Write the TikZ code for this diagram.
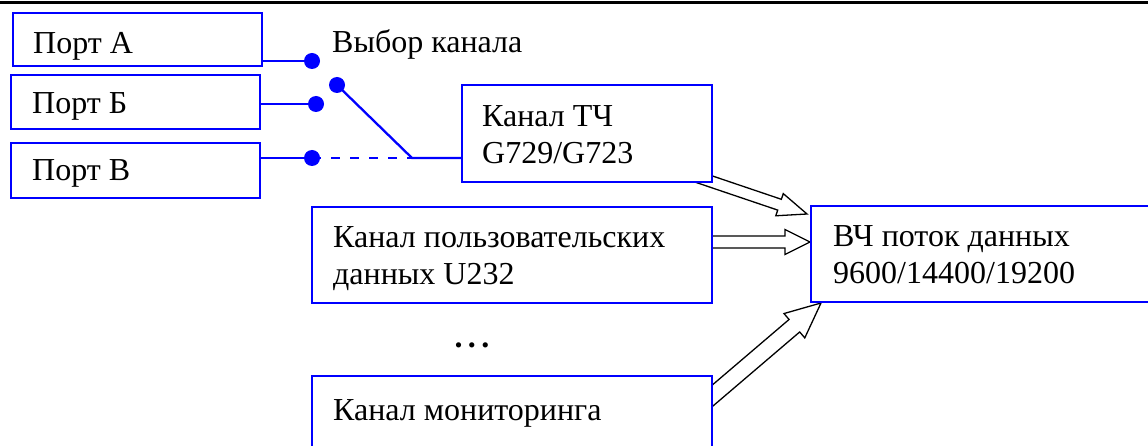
\documentclass[tikz,border=0pt]{standalone}
\usepackage{fontspec}
\setmainfont{Liberation Serif}
\usetikzlibrary{calc}
\pgfdeclarelayer{bg}
\pgfsetlayers{bg,main}
\definecolor{boxblue}{RGB}{0,0,255}
\tikzset{
  box/.style={draw=boxblue, line width=2.7pt, fill=white, anchor=north west, inner sep=0pt, outer sep=0pt},
  txt/.style={font=\fontsize{32}{37}\selectfont, inner sep=0pt, align=left},
  wire/.style={draw=boxblue, line width=2.3pt},
  dot/.style={circle, fill=boxblue, inner sep=0pt, outer sep=0pt, minimum size=16pt},
  fat/.style={draw=black, line width=1.3pt, fill=white, line join=miter},
}
\newcommand\fatarrow[5]{%
  \coordinate (fab) at ($(#2)!#5!(#1)$);
  \draw[fat] ($(#1)!#3!90:(#2)$) -- ($(fab)!#3!90:(#2)$) -- ($(fab)!#4!90:(#2)$) -- (#2)
    -- ($(fab)!#4!-90:(#2)$) -- ($(fab)!#3!-90:(#2)$) -- ($(#1)!#3!-90:(#2)$) -- cycle;
}
\begin{document}
\begin{tikzpicture}[x=1pt,y=-1pt]
\path[use as bounding box, clip] (0,0) rectangle (1148,446);
\begin{pgfonlayer}{bg}
\fill[white] (0,0) rectangle (1148,446);
\end{pgfonlayer}
\draw[line width=3pt] (0,2.5) -- (1148,2.5);

% boxes
\node[box, minimum width=249pt, minimum height=53pt] (pa) at (13,13) {};
\node[box, minimum width=249pt, minimum height=54pt] (pb) at (11,75) {};
\node[box, minimum width=249pt, minimum height=55pt] (pc) at (11,143) {};
\node[box, minimum width=250pt, minimum height=97pt] (tch) at (462,85) {};
\node[box, minimum width=400pt, minimum height=96pt] (usr) at (312,207) {};
\node[box, minimum width=400pt, minimum height=100pt] (mon) at (312,376) {};
\node[box, minimum width=360pt, minimum height=96pt] (hf) at (811,206) {};

% texts
\node[txt, anchor=base west] (tpa) at ($(pa.north west)+(20,41)$) {Порт А};
\node[txt, anchor=base west] (tpb) at ($(pb.north west)+(21,39)$) {Порт Б};
\node[txt, anchor=base west] (tpc) at ($(pc.north west)+(21,38)$) {Порт В};
\node[txt, anchor=north west] (ttch) at ($(tch.north west)+(20,20)$) {Канал ТЧ\\G729/G723};
\node[txt, anchor=north west] (tusr) at ($(usr.north west)+(21,19)$) {Канал пользовательских\\данных U232};
\node[txt, anchor=base west] (tmon) at ($(mon.north west)+(21,44)$) {Канал мониторинга};
\node[txt, anchor=north west] (thf) at ($(hf.north west)+(22,19)$) {ВЧ поток данных\\9600/14400/19200};
\node[txt, anchor=base west] (tsel) at (332,53) {Выбор канала};
\node[txt, anchor=base] (tdots) at (472,347) {\textbf{.\kern5.5pt.\kern5.5pt.}};

% switch
\node[dot] (dA) at (312,61) {};
\node[dot] (dB) at (316,104) {};
\node[dot] (dC) at (312,158) {};
\node[dot] (dS) at (337,85) {};
\coordinate (J) at (412,158);
\coordinate (pae) at ($(pa.south east)+(0,-5)$);
\coordinate (pbe) at ($(pb.east)+(0,2)$);
\coordinate (pce) at ($(pc.south east)+(0,-40)$);
\draw[wire] (pae) -- (dA.center);
\draw[wire] (pbe) -- (dB.center);
\draw[wire] (pce) -- (dC.center);
\draw[wire, dash pattern=on 8.5pt off 10.5pt] (dC.center) -- (J);
\draw[wire] (dS.center) -- (J) -- (tch.west |- J);

% arrows
\coordinate (a1s) at ($(tch.south east)+(-32,-11)$);
\coordinate (a1t) at ($(hf.north west)+(-4,8)$);
\coordinate (a2s) at ($(usr.east)+(-22,-13)$);
\coordinate (a2t) at ($(hf.west)+(-1,-12)$);
\coordinate (a3s) at ($(mon.north east)+(-14,32)$);
\coordinate (a3t) at ($(hf.south west)+(10,1)$);
\begin{pgfonlayer}{bg}
\fatarrow{a1s}{a1t}{5.7pt}{11.7pt}{29pt}
\fatarrow{a2s}{a2t}{6pt}{12.5pt}{25pt}
\fatarrow{a3s}{a3t}{8.2pt}{16pt}{35pt}
\end{pgfonlayer}
\end{tikzpicture}
\end{document}
